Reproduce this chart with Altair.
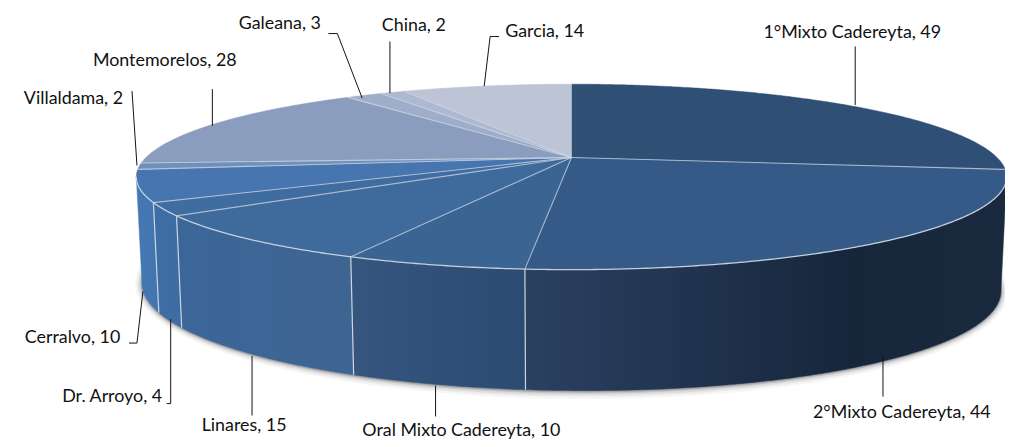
import math
import altair as alt

names = ["1°Mixto Cadereyta", "2°Mixto Cadereyta", "Oral Mixto Cadereyta", "Linares", "Dr. Arroyo",
         "Cerralvo", "Villaldama", "Montemorelos", "Galeana", "China", "Garcia"]
values = [49, 44, 10, 15, 4, 10, 2, 28, 3, 2, 14]
top_colors = ["#2f4f75", "#355a88", "#3a6491", "#3e6a9c", "#3f6d9f", "#4775b0",
              "#6f90bb", "#8a9dbf", "#9eadc9", "#adb9d2", "#bcc4d6"]
wall_stops = {
    1: [(0, "#2b4162"), (0.68, "#16263b"), (1, "#1a2a3e")],
    2: [(0, "#36557f"), (1, "#2c4b73")],
    3: [(0, "#3c6699"), (1, "#3e6491")],
    4: [(0, "#3e6ea6"), (1, "#3e6ca2")],
    5: [(0, "#4678b4"), (1, "#4275ae")],
}
# label text, centre x, centre y
label_x = [859, 909, 465, 246, 113, 73, 74, 166, 282, 417, 549]
label_y = [31, 415, 433, 428, 398, 339, 98, 60, 22, 24, 30]
leaders = [
    [(862, 45), (862, 104)],
    [(890, 358), (890, 398)],
    [(439, 387), (439, 418)],
    [(254, 357), (254, 417)],
    [(172, 320), (172, 405), (168, 405)],
    [(144, 292), (138, 344), (130, 344)],
    [(133, 90), (138, 165)],
    [(214, 88), (214, 125)],
    [(331, 32), (340, 32), (365, 97)],
    [(393, 40), (393, 92)],
    [(503, 35), (494, 35), (488, 85)],
]

CX, CY, A, B, K = 576, 157, 429, 89.4, 0.2086
T0, T1 = 102.0, 258.0


def top(t):
    r = math.radians(t)
    u, v = math.sin(r), -math.cos(r)
    d = 1 - K * v
    return (CX + A * u / d, CY + B * v / d)


def bottom(t):
    r = math.radians(t)
    u, v = math.sin(r), -math.cos(r)
    x, y = top(t)
    return (CX + (x - CX) * 0.987, y + 108 + 14 * v + 4 * u)


def arc(f, a, b, step=0.5):
    n = max(2, int(abs(b - a) / step) + 1)
    return [f(a + (b - a) * i / (n - 1)) for i in range(n)]


def poly(pts, **props):
    pts = [list(p) for p in pts]
    if pts[0] != pts[-1]:
        pts.append(pts[0])
    return {"type": "Feature", "properties": props, "geometry": {"type": "Polygon", "coordinates": [pts]}}


def line(pts):
    return {"type": "Feature", "properties": {}, "geometry": {"type": "LineString", "coordinates": [list(p) for p in pts]}}


proj = dict(type="identity", scale=1, translate=[-8, -8])


def shape(features, **mark):
    return alt.Chart(alt.Data(values=features)).mark_geoshape(**mark).project(**proj)


total = sum(values)
bounds = [0.0]
for v in values:
    bounds.append(bounds[-1] + v / total * 360)

layers = []

# soft shadow under the pie
for grow, op in [(7, 0.05), (5, 0.07), (3.5, 0.1), (2, 0.16), (1, 0.25)]:
    ring = []
    for p in arc(bottom, 0, 360, 1):
        dx, dy = p[0] - CX, p[1] - (CY + 125)
        ring.append((CX + dx * (1 + grow / 440), CY + 125 + dy * (1 + grow / 100) + 0.6))
    layers.append(shape([poly(ring)], fill="#555555", fillOpacity=op, strokeWidth=0))

# side walls
for i, stops in wall_stops.items():
    a, b = max(bounds[i], T0), min(bounds[i + 1], T1)
    pts = arc(top, a, b) + arc(bottom, b, a)
    grad = alt.Gradient(gradient="linear", x1=0, x2=1, y1=0, y2=0,
                        stops=[alt.GradientStop(offset=o, color=c) for o, c in stops])
    layers.append(shape([poly(pts)], fill=grad, stroke=grad, strokeWidth=0.5))

# edges between the wall pieces
edge = [line([top(bounds[i]), bottom(bounds[i])]) for i in (2, 3, 4, 5)]
layers.append(shape(edge, filled=False, stroke="#cfd6e0", strokeWidth=1.2))

# top face
for i, col in enumerate(top_colors):
    pts = [(CX, CY)] + arc(top, bounds[i], bounds[i + 1])
    layers.append(shape([poly(pts)], fill=col, stroke=col, strokeWidth=0.5))
spokes = [line([(CX, CY), top(bounds[i])]) for i in range(1, len(values))]
layers.append(shape(spokes, filled=False, stroke="#ccd4e0", strokeOpacity=0.75, strokeWidth=1.1))
rim = [line(arc(top, T0, T1))]
layers.append(shape(rim, filled=False, stroke="#d5dbe4", strokeOpacity=0.9, strokeWidth=1.3))

# leader lines and labels
layers.append(shape([line(p) for p in leaders], filled=False, stroke="#111111", strokeWidth=1))
rows = [{"t": f"{n}, {v}", "x": x, "y": y} for n, v, x, y in zip(names, values, label_x, label_y)]
layers.append(
    alt.Chart(alt.Data(values=rows))
    .mark_text(font="Lato", fontSize=18, color="#111111", align="center", baseline="middle")
    .encode(longitude="x:Q", latitude="y:Q", text="t:N")
    .project(**proj)
)

chart = (
    alt.layer(*layers)
    .properties(width=1005, height=439, padding=0, autosize=alt.AutoSizeParams(type="none"))
    .configure_view(stroke=None)
)
chart.save("out.html", embed_options={"renderer": "svg", "actions": False})
